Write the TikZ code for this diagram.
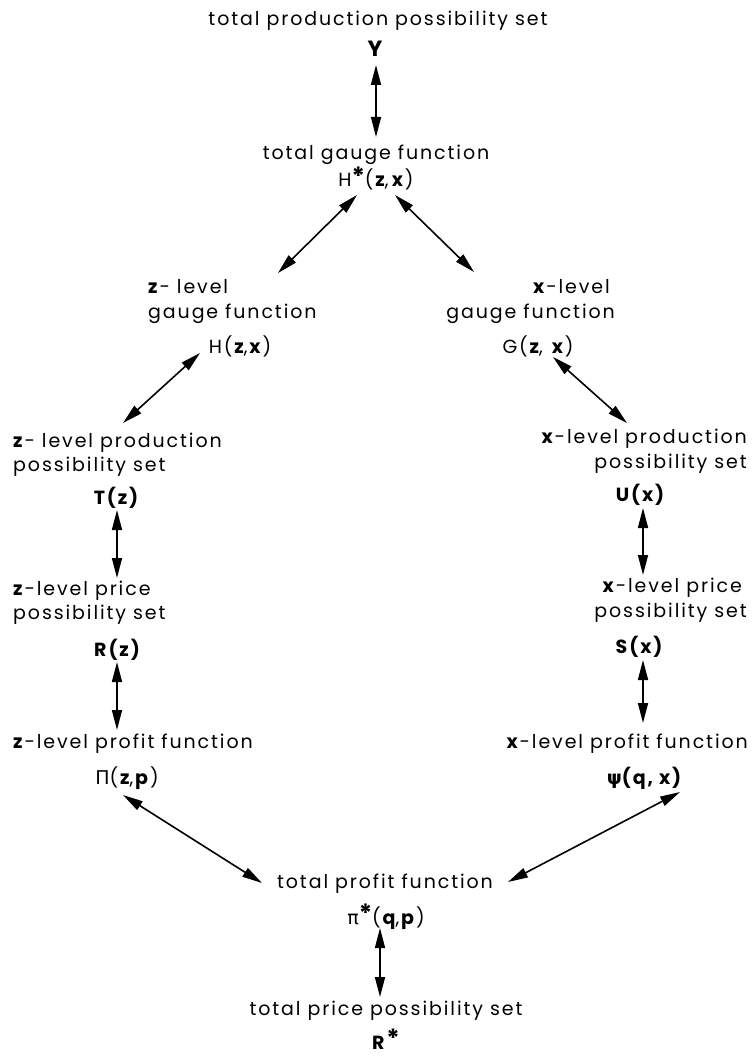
\documentclass[tikz,border=0pt]{standalone}
\usepackage{fontspec}
\setmainfont{Poppins}[LetterSpace=10]
\newfontfamily\grk{DejaVu Sans}
\usetikzlibrary{arrows.meta}
\newcommand\bv[1]{\textbf{#1}}
\newcommand\astx{\raisebox{1.5pt}{\fontsize{25}{25}\selectfont\bfseries *}}
\begin{document}
\begin{tikzpicture}[x=1pt,y=-1pt,
  lab/.style={inner sep=0pt,anchor=base,font=\fontsize{19}{23}\selectfont},
  labl/.style={lab,anchor=base west},
  labr/.style={lab,anchor=base east},
  dbl/.style={{Stealth[length=20pt,width=10pt,inset=0pt]}-{Stealth[length=20pt,width=10pt,inset=0pt]},line width=1.6pt},
]
\fill[white] (0,0) rectangle (754,1059);
\useasboundingbox (0,0) rectangle (754,1059);

% top column
\node[lab] (top) at (378,26) {total production possibility set};
\node[lab] (Y) at (376,57) {\fontsize{22}{22}\selectfont\bv{Y}};
\node[lab] (tg) at (376,160) {total gauge function};
\node[lab] (Hs) at (376,187) {H\astx(\bv{z},\,\bv{x})};

% left column
\node[labl] (zg1) at (148,293) {\bv{z}- level};
\node[labl] (zg2) at (148,318) {gauge function};
\node[lab] (Hzx) at (240,353) {H(\bv{z},\bv{x})};
\node[labl] (zp1) at (13,447) {\bv{z}- level production};
\node[labl] (zp2) at (13,471) {possibility set};
\node[lab] (Tz) at (117,504) {\bv{T(z)}};
\node[labl] (zr1) at (13,595) {\bv{z}-level price};
\node[labl] (zr2) at (13,619) {possibility set};
\node[lab] (Rz) at (118,656) {\bv{R(z)}};
\node[labl] (zpf) at (13,748) {\bv{z}-level profit function};
\node[lab] (Pzp) at (127,784) {{\grk Π}(\bv{z},\bv{p})};

% right column
\node[labr] (xg1) at (610,293) {\bv{x}-level};
\node[labr] (xg2) at (615,318) {gauge function};
\node[lab] (Gzx) at (538,353) {G(\bv{z}, \bv{x})};
\node[labr] (xp1) at (747,443) {\bv{x}-level production};
\node[labr] (xp2) at (747,468) {possibility set};
\node[lab] (Ux) at (641,501) {\bv{U(x)}};
\node[labr] (xr1) at (742,592) {\bv{x}-level price};
\node[labr] (xr2) at (747,617) {possibility set};
\node[lab] (Sx) at (640,653) {\bv{S(x)}};
\node[labr] (xpf) at (748,748) {\bv{x}-level profit function};
\node[lab] (Psi) at (645,784) {\bv{{\grk ψ}(q, x)}};

% bottom column
\node[lab] (tpf) at (385,888) {total profit function};
\node[lab] (pis) at (386,924) {{\grk π}\astx(\bv{q},\bv{p})};
\node[lab] (tps) at (386,1015) {total price possibility set};
\node[lab] (Rs) at (386,1049) {\bv{R}\astx};

% connectors
\draw[dbl] ([shift={(0,8)}]Y.base) -- ([shift={(0,-23)}]tg.base);
\draw[dbl] ([shift={(-19,8)}]Hs.base) -- ([shift={(130,-20)}]zg1.base west);
\draw[dbl] ([shift={(19,8)}]Hs.base) -- ([shift={(-136,-21)}]xg1.base east);
\draw[dbl] ([shift={(-40,0)}]Hzx.base) -- ([shift={(110,-24)}]zp1.base west);
\draw[dbl] ([shift={(15,4)}]Gzx.base) -- ([shift={(-120,-20)}]xp1.base east);
\draw[dbl] ([shift={(0,6)}]Tz.base) -- ([shift={(104,-17)}]zr1.base west);
\draw[dbl] ([shift={(-1,6)}]Rz.base) -- ([shift={(104,-18)}]zpf.base west);
\draw[dbl] ([shift={(2,7)}]Ux.base) -- ([shift={(-99,-17)}]xr1.base east);
\draw[dbl] ([shift={(3,7)}]Sx.base) -- ([shift={(-105,-25)}]xpf.base east);
\draw[dbl] ([shift={(-4,11)}]Pzp.base) -- ([shift={(-123,-5)}]tpf.base);
\draw[dbl] ([shift={(35,8)}]Psi.base) -- ([shift={(123,-6)}]tpf.base);
\draw[dbl] ([shift={(-6,4)}]pis.base) -- ([shift={(-6,-18)}]tps.base);
\end{tikzpicture}
\end{document}
